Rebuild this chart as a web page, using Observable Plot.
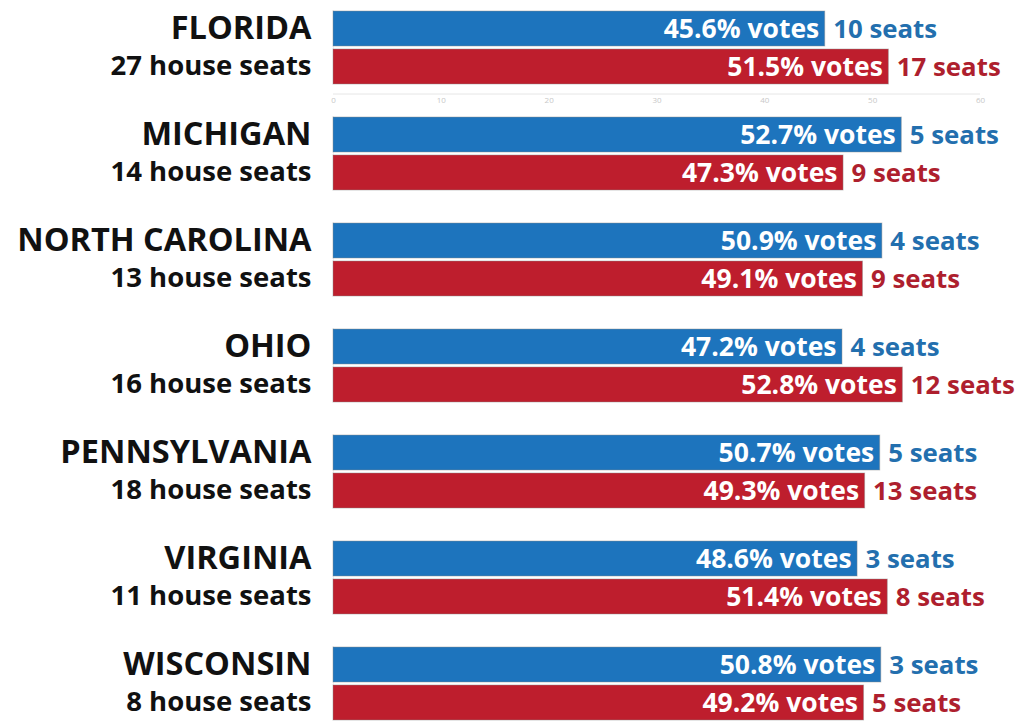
<!DOCTYPE html>
<html>
<head>
<meta charset="utf-8">
<script src="https://cdn.jsdelivr.net/npm/d3@7"></script>
<script src="https://cdn.jsdelivr.net/npm/@observablehq/plot@0.6"></script>
<style>
  html, body { margin: 0; padding: 0; background: #fff; }
  #chart svg { display: block; }
</style>
</head>
<body>
<div id="chart"></div>
<script>
const states = ["FLORIDA", "MICHIGAN", "NORTH CAROLINA", "OHIO", "PENNSYLVANIA", "VIRGINIA", "WISCONSIN"];
const houseSeats = [27, 14, 13, 16, 18, 11, 8];
const demVotes = [45.6, 52.7, 50.9, 47.2, 50.7, 48.6, 50.8];
const repVotes = [51.5, 47.3, 49.1, 52.8, 49.3, 51.4, 49.2];
const demSeats = [10, 5, 4, 4, 5, 3, 3];
const repSeats = [17, 9, 9, 12, 13, 8, 5];
const xTicks = [0, 10, 20, 30, 40, 50, 60];

const rows = [];
states.forEach((s, i) => {
  rows.push({state: s, party: "D", votes: demVotes[i], seats: demSeats[i]});
  rows.push({state: s, party: "R", votes: repVotes[i], seats: repSeats[i]});
});
const labels = states.map((s, i) => ({state: s, house: houseSeats[i]}));

const barColor = {D: "#1d74bd", R: "#be1e2d"};
const seatColor = {D: "#236fae", R: "#ae1f2e"};
const font = "'Open Sans', 'Noto Sans', sans-serif";

const chart = Plot.plot({
  width: 1017,
  height: 723,
  marginLeft: 333,
  marginRight: 37,
  marginTop: 7,
  marginBottom: 0,
  style: {fontFamily: font, background: "#fff"},
  x: {domain: [0, 60], axis: null},
  y: {domain: ["D", "R"], axis: null, paddingInner: 0.08, paddingOuter: 0},
  fy: {domain: states, axis: null, paddingInner: 0.3, paddingOuter: 0},
  facet: {marginTop: 0, marginBottom: 0, marginLeft: 0, marginRight: 0},
  marks: [
    Plot.ruleX([0], {stroke: "#f0f0f0", fy: null}),
    Plot.ruleY(["R"], {y: d => d, fy: () => "FLORIDA", x1: 0, x2: 60, dy: 27, stroke: "#e6e6e6"}),
    Plot.text(xTicks, {x: d => d, y: () => "R", fy: () => "FLORIDA", dy: 33, text: d => String(d), fill: "#c8c8c8", fontSize: 8}),
    Plot.barX(rows, {
      x: "votes", y: "party", fy: "state",
      fill: d => barColor[d.party],
      stroke: "#8a8a8a", strokeOpacity: 0.45, strokeWidth: 1
    }),
    Plot.text(rows, {
      x: "votes", y: "party", fy: "state",
      text: d => `${d.votes.toFixed(1)}% votes`,
      textAnchor: "end", dx: -6, dy: 1,
      fill: "#fff", fontSize: 26.5, fontWeight: 700
    }),
    Plot.text(rows, {
      x: "votes", y: "party", fy: "state",
      text: d => `${d.seats} seats`,
      textAnchor: "start", dx: 8, dy: 1,
      fill: d => seatColor[d.party],
      fontSize: 25.8, fontWeight: 700
    }),
    Plot.text(labels, {
      x: () => 0, y: () => "D", fy: "state",
      text: "state", textAnchor: "end", dx: -22, dy: 0,
      fill: "#111", fontSize: 32.5, fontWeight: 700
    }),
    Plot.text(labels, {
      x: () => 0, y: () => "R", fy: "state",
      text: d => `${d.house} house seats`, textAnchor: "end", dx: -22, dy: -1,
      fill: "#111", fontSize: 27.5, fontWeight: 700
    })
  ]
});
document.getElementById("chart").appendChild(chart);
</script>
</body>
</html>
